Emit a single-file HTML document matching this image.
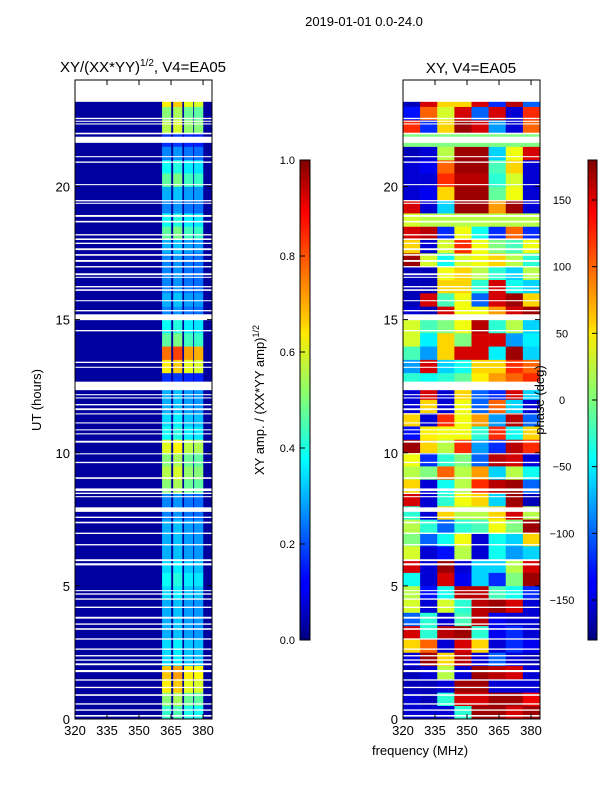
<!DOCTYPE html>
<html><head><meta charset="utf-8"><style>
body{margin:0;background:#fff;}
svg{display:block;font-family:"Liberation Sans",sans-serif;}
</style></head><body>
<svg id="fig" width="600" height="800" viewBox="0 0 600 800" xmlns="http://www.w3.org/2000/svg">
<defs>
<linearGradient id="jet" x1="0" y1="1" x2="0" y2="0">
<stop offset="0" stop-color="#00007f"/><stop offset="0.11" stop-color="#0000ff"/>
<stop offset="0.125" stop-color="#0000ff"/><stop offset="0.34" stop-color="#00dcff"/>
<stop offset="0.375" stop-color="#00ffff"/><stop offset="0.5" stop-color="#7dff7a"/>
<stop offset="0.64" stop-color="#ffea00"/><stop offset="0.66" stop-color="#ffd000"/>
<stop offset="0.89" stop-color="#ff0000"/><stop offset="1" stop-color="#7f0000"/>
</linearGradient>
</defs>
<text x="364" y="26" font-size="13" text-anchor="middle">2019-01-01 0.0-24.0</text>
<text x="143" y="72" font-size="15" text-anchor="middle">XY/(XX*YY)<tspan font-size="10" dy="-6">1/2</tspan><tspan dy="6">, V4=EA05</tspan></text>
<text x="471" y="73" font-size="15" text-anchor="middle">XY, V4=EA05</text>
<g id="left"></g>
<g id="right"></g>
<g id="axes"></g>
<rect x="300" y="160" width="10" height="480" fill="url(#jet)" stroke="#000" stroke-width="1"/>
<rect x="588" y="160" width="9" height="480" fill="url(#jet)" stroke="#000" stroke-width="1"/>
<g id="cbticks"></g>
<text transform="translate(41,400) rotate(-90)" font-size="13" text-anchor="middle">UT (hours)</text>
<text transform="translate(264,400) rotate(-90)" font-size="13" text-anchor="middle">XY amp. / (XX*YY amp)<tspan font-size="9" dy="-5">1/2</tspan></text>
<text transform="translate(544,400) rotate(-90)" font-size="13" text-anchor="middle">phase (deg)</text>
<text x="420" y="755" font-size="13" text-anchor="middle">frequency (MHz)</text>
</svg>
<script>
const NS='http://www.w3.org/2000/svg';
const xTicks=[320,335,350,365,380];
const yTicks=[0,5,10,15,20];
const ampTicks=[0.0,0.2,0.4,0.6,0.8,1.0];
const phaseTicks=[-150,-100,-50,0,50,100,150];
const stripStarts=[360.8,366,371.1,375.8];
const stripWidth=4.3;
const stripGain=[0.85,0.9,0.8,0.78];
const rowAmp=[0.5,0.6,0.75,0.8,0.4,0.4,0.35,0.35,0.35,0.4,0.45,0.4,0.35,0.35,0.35,0.3,0.3,0.6,0.65,0.6,0.7,0.45,0.4,0.35,0.35,0.2,0.75,0.9,0.55,0.45,0.3,0.35,0.3,0.3,0.3,0.35,0.55,0.45,0.3,0.35,0.55,0.45,0.3,0.2,0.65,0.6,0.75,0.75];
const bgAmp=0.03;
const phase=[
[-150,-150,-150,-30,170,170,150,170],
[-150,-160,-30,150,150,170,170,140],
[-160,-160,-150,170,170,-150,-150,-150],
[-160,-150,20,-150,170,160,150,-150],
[-150,170,60,160,-150,-100,-150,-160],
[60,100,-150,150,60,-150,-120,-140],
[150,-30,160,170,-30,-140,-120,-150],
[-100,-30,-150,-20,160,-140,-150,-150],
[30,-150,30,-30,160,170,150,-150],
[20,-130,-40,160,160,-20,-40,-120],
[-40,-150,150,-140,-60,-120,0,170],
[150,-150,170,-150,-60,-60,20,150],
[30,-150,-130,20,-150,-40,-80,-60],
[0,-100,-40,40,-150,-40,-60,60],
[20,-30,-100,-30,-20,40,0,170],
[-30,-150,60,20,20,60,150,20],
[150,-150,-30,40,60,-60,170,-160],
[60,-150,-40,20,120,160,170,-100],
[20,0,100,20,80,-60,20,-40],
[40,-120,-30,0,-100,160,150,-150],
[170,60,20,120,-80,-120,160,120],
[-130,50,40,40,-30,120,-40,60],
[60,-150,120,40,80,-80,160,-100],
[-150,60,-150,40,-100,100,-60,-150],
[-150,150,-150,60,-100,-120,150,-60],
[-30,-40,-30,-10,50,80,100,120],
[-80,150,-60,-40,60,60,120,100],
[-20,-80,60,150,150,-50,170,-60],
[30,-50,60,0,150,150,-80,-50],
[30,-20,0,40,160,-30,20,-60],
[-150,-160,150,40,40,80,150,170],
[-160,150,-20,40,-100,150,170,60],
[-160,-160,60,60,-30,150,-40,-60],
[-160,-160,40,60,20,-30,-60,20],
[170,30,-40,30,40,60,20,-30],
[60,-150,30,120,40,0,-20,40],
[150,160,-120,40,-40,-120,100,-120],
[30,20,20,20,20,20,20,20],
[150,-150,-60,170,170,80,170,-150],
[-150,-140,60,170,170,-10,40,-150],
[-150,-150,120,160,160,-30,30,-150],
[-150,-140,100,170,170,-20,60,-150],
[-160,-150,20,170,170,-60,40,150],
[0,0,0,0,0,0,0,0],
[120,-120,60,170,150,-80,-150,100],
[-130,100,30,150,-100,150,-150,120],
[-160,150,60,60,150,-120,160,-100],
[-160,150,60,60,150,-120,160,-100]];
const flags=[[23.18,24],[22.53,22.58],[22.43,22.47],[22.33,22.37],[21.96,22.02],[21.64,21.87],[21.10,21.14],[20.89,20.94],[20.05,20.09],[19.44,19.49],[19.35,19.39],[18.86,18.93],[18.65,18.71],[18.16,18.21],[17.99,18.05],[17.84,17.89],[17.61,17.68],[17.40,17.46],[17.17,17.24],[16.96,17.01],[16.67,16.74],[16.57,16.61],[16.21,16.26],[16.08,16.14],[15.69,15.73],[15.31,15.36],[14.98,15.20],[14.56,14.61],[13.37,13.42],[13.19,13.23],[12.35,12.67],[12.16,12.20],[12.04,12.08],[11.78,11.83],[11.60,11.67],[11.44,11.48],[11.10,11.14],[10.84,10.88],[10.69,10.73],[10.38,10.45],[9.94,9.98],[9.61,9.66],[9.02,9.08],[8.56,8.66],[8.45,8.50],[8.33,8.37],[7.78,7.95],[7.55,7.60],[7.35,7.41],[6.95,7.00],[6.52,6.57],[5.93,6.00],[5.77,5.85],[4.80,4.84],[4.67,4.72],[4.48,4.53],[4.17,4.22],[3.77,3.84],[3.54,3.59],[3.35,3.41],[2.98,3.03],[2.60,2.65],[2.35,2.40],[2.19,2.24],[2.02,2.09],[1.76,1.84],[1.44,1.49],[1.16,1.21],[0.87,0.93],[0.54,0.59],[0.31,0.36],[0.09,0.15]];
const F0=320,F1=384.2,T0=0,T1=24,PW=137,TOP=80,BOT=719;
const panels=[{x0:75},{x0:403}];
function xs(p,f){return p.x0+(f-F0)/(F1-F0)*PW;}
function ys(t){return BOT-(t-T0)/(T1-T0)*(BOT-TOP);}
function jet(v){v=Math.max(0,Math.min(1,v));
 const c=x=>Math.round(255*Math.max(0,Math.min(1,x)));
 const r=c(Math.min(4*v-1.5,-4*v+4.5)),g=c(Math.min(4*v-0.5,-4*v+3.5)),b=c(Math.min(4*v+0.5,-4*v+2.5));
 return `rgb(${r},${g},${b})`;}
function mk(tag,attrs,parent){const e=document.createElementNS(NS,tag);for(const k in attrs)e.setAttribute(k,attrs[k]);parent.appendChild(e);return e;}
const L=document.getElementById('left'),R=document.getElementById('right'),A=document.getElementById('axes');
let bg=mk('rect',{x:xs(panels[0],F0),y:ys(T1),width:PW,height:ys(T0)-ys(T1),fill:jet(bgAmp)},L);


rowAmp.forEach((a,i)=>{stripStarts.forEach((s,j)=>{
 const r=mk('rect',{x:xs(panels[0],s),y:ys(i*0.5+0.5),width:xs(panels[0],s+stripWidth)-xs(panels[0],s),height:ys(i*0.5)-ys(i*0.5+0.5)+0.3,fill:jet(a*stripGain[j])},L);
 
 
});});
const nC=8,cw=(F1-F0)/nC;
phase.forEach((row,i)=>{row.forEach((p,j)=>{
 const f=F0+j*cw;
 const r=mk('rect',{x:xs(panels[1],f),y:ys(i*0.5+0.5),width:xs(panels[1],f+cw)-xs(panels[1],f)+0.3,height:ys(i*0.5)-ys(i*0.5+0.5)+0.3,fill:jet((p+180)/360)},R);
 
 
});});
[L,R].forEach((g,k)=>{flags.forEach(fl=>{
 const r=mk('rect',{x:panels[k].x0,y:ys(fl[1]),width:PW,height:Math.max(1,ys(fl[0])-ys(fl[1])),fill:'#fff'},g);
 
 
});});
panels.forEach((p,k)=>{
 const fr=mk('rect',{x:p.x0,y:TOP,width:PW,height:BOT-TOP,fill:'none',stroke:'#000','stroke-width':1},A);
 
 
 xTicks.forEach(t=>{const x=xs(p,t);
  mk('line',{x1:x,x2:x,y1:BOT,y2:BOT-5,stroke:'#000'},A);mk('line',{x1:x,x2:x,y1:TOP,y2:TOP+5,stroke:'#000'},A);
  const tx=mk('text',{x:x,y:BOT+16,'font-size':13,'text-anchor':'middle'},A);tx.textContent=t;
  
  });
 yTicks.forEach(t=>{const y=ys(t);
  mk('line',{x1:p.x0,x2:p.x0+5,y1:y,y2:y,stroke:'#000'},A);mk('line',{x1:p.x0+PW,x2:p.x0+PW-5,y1:y,y2:y,stroke:'#000'},A);
  const tx=mk('text',{x:p.x0-5,y:y+5,'font-size':13,'text-anchor':'end'},A);tx.textContent=t;
  
  });
});
const C=document.getElementById('cbticks');
ampTicks.forEach(v=>{const y=640-v*480;
 mk('line',{x1:300,x2:305,y1:y,y2:y,stroke:'#000'},C);
 const tx=mk('text',{x:295,y:y+4,'font-size':11,'text-anchor':'end'},C);tx.textContent=v.toFixed(1);
 
 });
phaseTicks.forEach(v=>{const y=400-v/180*240;
 mk('line',{x1:597,x2:592,y1:y,y2:y,stroke:'#000'},C);
 const tx=mk('text',{x:562,y:y+4,'font-size':11,'text-anchor':'middle'},C);tx.textContent=v<0?'\u2212'+(-v):v;
 
 });
</script>
</body></html>
